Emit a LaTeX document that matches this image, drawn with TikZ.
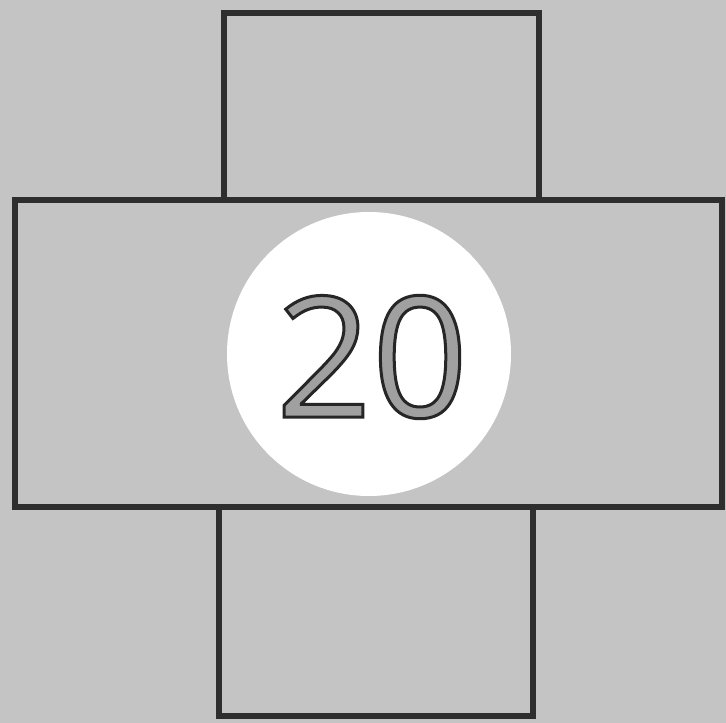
\documentclass[tikz,border=0pt]{standalone}
\usepackage{fontspec}
\setmainfont{Open Sans}
\definecolor{paper}{HTML}{C4C4C4}
\definecolor{ink}{HTML}{2E2E2E}
\definecolor{digitfill}{HTML}{A0A0A0}
\newcommand{\outlinedtext}[1]{{\color{digitfill}\special{pdf:code 2 Tr 3 w 0.15 G}#1\special{pdf:code 0 Tr}}}
\tikzset{
  box/.style={draw=ink, line width=6pt},
  badge/.style={circle, fill=white, minimum size=284pt, inner sep=0pt},
  numtext/.style={font=\fontsize{168}{168}\selectfont, inner sep=0pt}
}
\begin{document}
\begin{tikzpicture}[x=1pt,y=-1pt]
  \fill[paper] (0,0) rectangle (726,723);
  \useasboundingbox (0,0) rectangle (726,723);
  \draw[box] (224,13) rectangle (539,200);
  \draw[box] (219,507) rectangle (533,716);
  \draw[box] (15,200) rectangle (722,507);
  \node[badge] (c) at (369,354) {};
  \node[numtext] (n) at (372,357) {\outlinedtext{20}};
\end{tikzpicture}
\end{document}
